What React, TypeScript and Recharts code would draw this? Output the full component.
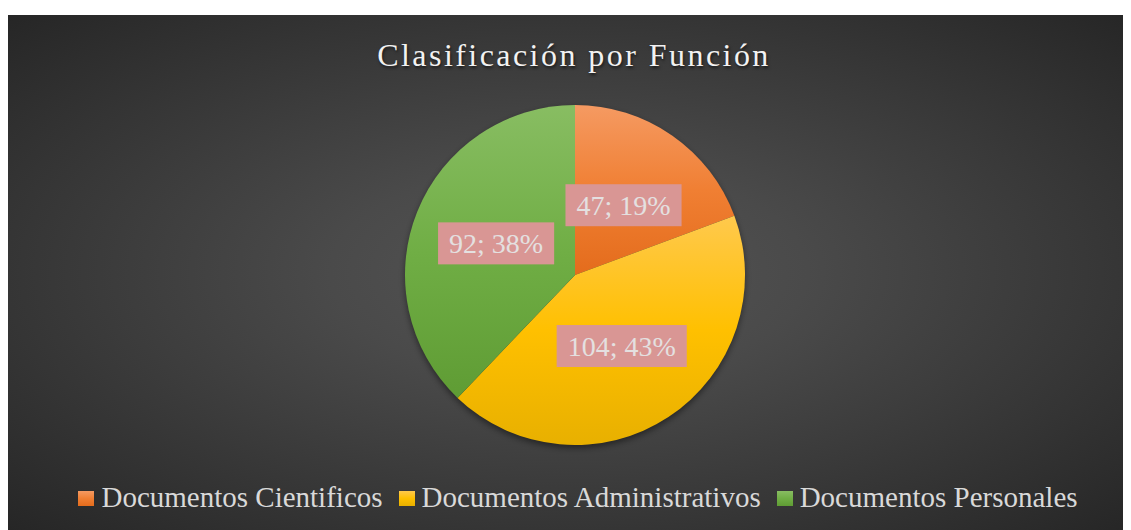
import { PieChart, Pie, Cell, Legend } from "recharts";

const categories = ["Documentos Cientificos", "Documentos Administrativos", "Documentos Personales"];
const counts = [47, 104, 92];
const percents = [19, 43, 38];

// gradient stops per slice: light top, base, dark bottom
const tops = ["#f59a62", "#ffc94d", "#88bd62"];
const bases = ["#f07f33", "#ffc000", "#70ae45"];
const bottoms = ["#e46c1c", "#e8b000", "#5f9c34"];

const W = 1124;
const H = 515;
const CX = 568;
const CY = 260;
const R = 170;
const RAD = Math.PI / 180;

const slices = categories.map((name, i) => ({ name, value: counts[i], pct: percents[i] }));

const charW = (s: string, fs: number) => {
  let w = 0;
  for (const ch of s) {
    if (/[0-9]/.test(ch)) w += 0.5;
    else if (ch === ";") w += 0.278;
    else if (ch === " ") w += 0.25;
    else if (ch === "%") w += 0.833;
    else w += 0.5;
  }
  return w * fs;
};

const renderLabel = (props: any) => {
  const { cx, cy, midAngle, outerRadius, index } = props;
  const r = outerRadius * 0.5;
  const x = cx + r * Math.cos(-midAngle * RAD);
  const y = cy + r * Math.sin(-midAngle * RAD);
  const txt = `${slices[index].value}; ${slices[index].pct}%`;
  const fs = 28;
  const bw = charW(txt, fs) + 22;
  const bh = 42;
  return (
    <g key={`lbl-${index}`}>
      <rect x={x - bw / 2} y={y - bh / 2} width={bw} height={bh} fill="#d99694" />
      <text
        x={x}
        y={y + 10}
        textAnchor="middle"
        fill="#e4e0e0"
        fontSize={fs}
        fontFamily="'Liberation Serif', 'Times New Roman', serif"
      >
        {txt}
      </text>
    </g>
  );
};

const LegendContent = () => (
  <div
    style={{
      display: "flex",
      justifyContent: "center",
      alignItems: "center",
      paddingLeft: 18,
      fontFamily: "'Liberation Serif', 'Times New Roman', serif",
      fontSize: 29,
      lineHeight: "34px",
      color: "#d9d9d9",
      whiteSpace: "nowrap",
    }}
  >
    {slices.map((s, i) => (
      <div key={s.name} style={{ display: "flex", alignItems: "center", marginRight: i < 2 ? 16 : 0 }}>
        <span
          style={{
            display: "inline-block",
            width: 16,
            height: 15,
            marginRight: 7,
            marginTop: 2,
            background: `linear-gradient(${tops[i]}, ${bases[i]} 50%, ${bottoms[i]})`,
          }}
        />
        <span>{s.name}</span>
      </div>
    ))}
  </div>
);

export default function App() {
  return (
    <div
      style={{
        position: "relative",
        width: W,
        height: H,
        marginLeft: -1,
        marginTop: 7,
        background: "radial-gradient(ellipse farthest-corner at 50% 50%, #555555 0%, #4a4a4a 30%, #262626 100%)",
      }}
    >
      <div
        style={{
          position: "absolute",
          left: 0,
          top: 22,
          width: W,
          textAlign: "center",
          paddingLeft: 10,
          boxSizing: "border-box",
          fontFamily: "'Liberation Serif', 'Times New Roman', serif",
          fontSize: 32,
          lineHeight: "36px",
          letterSpacing: 2.45,
          color: "#f2f2f2",
          textShadow: "1px 2px 3px rgba(0,0,0,0.6)",
        }}
      >
        Clasificación por Función
      </div>
      <PieChart width={W} height={H} margin={{ top: 0, right: 0, bottom: 0, left: 0 }} style={{ position: "absolute", left: 0, top: 0 }}>
        <defs>
          {slices.map((s, i) => (
            <linearGradient key={s.name} id={`g${i}`} x1="0" y1="0" x2="0" y2="1">
              <stop offset="0%" stopColor={tops[i]} />
              <stop offset="50%" stopColor={bases[i]} />
              <stop offset="100%" stopColor={bottoms[i]} />
            </linearGradient>
          ))}
          <filter id="pieShadow" x="-20%" y="-20%" width="140%" height="140%">
            <feGaussianBlur stdDeviation="3" />
          </filter>
        </defs>
        <Pie
          data={slices}
          dataKey="value"
          cx={CX}
          cy={CY + 3}
          outerRadius={R}
          startAngle={90}
          endAngle={-270}
          stroke="none"
          isAnimationActive={false}
          legendType="none"
        >
          {slices.map((s) => (
            <Cell key={s.name} fill="rgba(0,0,0,0.45)" filter="url(#pieShadow)" />
          ))}
        </Pie>
        <Pie
          data={slices}
          dataKey="value"
          cx={CX}
          cy={CY}
          outerRadius={R}
          startAngle={90}
          endAngle={-270}
          stroke="none"
          labelLine={false}
          label={renderLabel}
          isAnimationActive={false}
        >
          {slices.map((s, i) => (
            <Cell key={s.name} fill={`url(#g${i})`} />
          ))}
        </Pie>
        <Legend
          content={<LegendContent />}
          wrapperStyle={{ position: "absolute", left: 0, top: 465, width: W }}
        />
      </PieChart>
    </div>
  );
}
